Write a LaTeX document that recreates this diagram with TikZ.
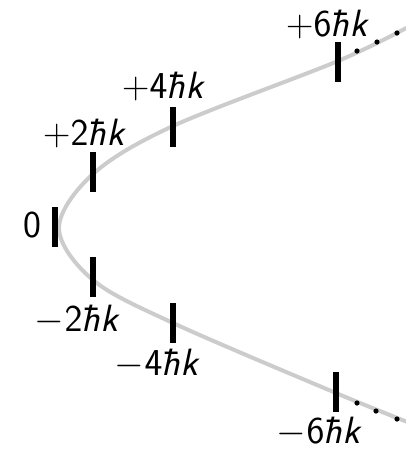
\documentclass[tikz,border=0pt]{standalone}
\usetikzlibrary{positioning}
\DeclareMathVersion{sans}
\SetSymbolFont{operators}{sans}{OT1}{cmss}{m}{n}
\SetSymbolFont{letters}{sans}{OT1}{cmss}{m}{sl}
\tikzset{mstate/.style={line width=3pt},
  mlab/.style={font=\LARGE\mathversion{sans},scale=1.1,inner sep=0pt,anchor=base},
  curve/.style={black!20,line width=2pt}}

\begin{document}
\begin{tikzpicture}[x=0.5pt,y=-0.5pt]
\useasboundingbox (0,0) rectangle (406,451);
% --- momentum states on the parabola
\coordinate (s0) at (55,227);
\coordinate (sp2) at (93,172); \coordinate (sp4) at (173,127); \coordinate (sp6) at (338,62);
\coordinate (sm2) at (93,277); \coordinate (sm4) at (173,323); \coordinate (sm6) at (336,392);
\coordinate (top) at (410,26); \coordinate (bot) at (410,423);
\draw[curve] plot[smooth,tension=0.55] coordinates {(top) (338,61) (173,126) (93,174) (59,228) (93,280) (173,323) (336,393) (bot)};
\foreach \s in {s0,sp2,sp4,sp6,sm2,sm4,sm6}
  \draw[mstate] ([yshift=10pt]\s) -- ([yshift=-10pt]\s);
\foreach \p in {(357,51),(377,42),(397,33),(357,403),(376,411),(397,419)}
  \fill \p circle (1.3pt);
\node[mlab] (l0) at (32,237) {$0$};
\node[mlab] (lp2) at (85,145) {$+2\hbar k$};
\node[mlab] (lp4) at (164,98) {$+4\hbar k$};
\node[mlab] (lp6) at (328,36) {$+6\hbar k$};
\node[mlab] (lm2) at (78,331) {$-2\hbar k$};
\node[mlab] (lm4) at (158,375) {$-4\hbar k$};
\node[mlab] (lm6) at (320,443) {$-6\hbar k$};
\end{tikzpicture}
\end{document}
